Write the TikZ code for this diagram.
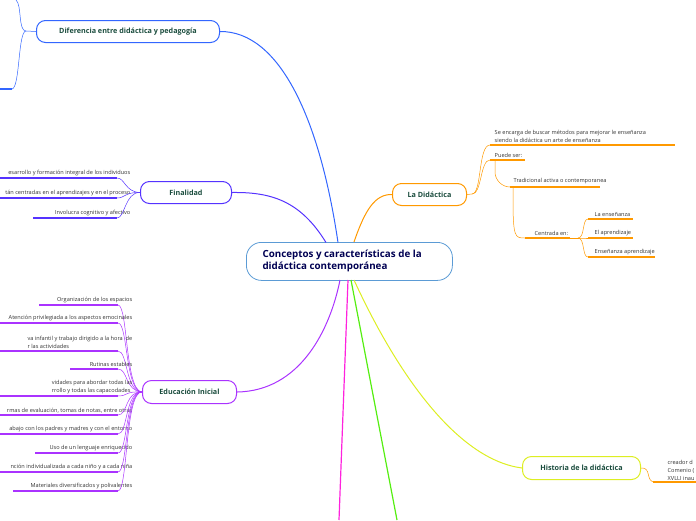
\documentclass[tikz,border=0pt]{standalone}
\usepackage{fontspec}
\setmainfont{Open Sans}
\begin{document}
\begin{tikzpicture}[x=1pt,y=-1pt,
  topic/.style={draw=#1,line width=1pt,rounded corners=9pt,fill=white,text=titlec,font=\fontsize{7.2}{8}\selectfont\bfseries,inner sep=0pt,anchor=north west},
  sm/.style={font=\fontsize{5.6}{8}\selectfont,text=black!80,inner sep=0.5pt,align=left},
  smr/.style={sm,align=right,anchor=south east},
  sml/.style={sm,anchor=south west},
  ul/.style={draw=#1,line width=1.2pt},
  br/.style={draw=#1,line width=0.5pt}]
\definecolor{titlec}{HTML}{1B4D3E}
\definecolor{cblue}{HTML}{3366FF}
\definecolor{cfin}{HTML}{5533FF}
\definecolor{cpur}{HTML}{AA33FF}
\definecolor{cor}{HTML}{FF9900}
\definecolor{cyel}{HTML}{DDEE22}
\definecolor{cmag}{HTML}{FF22DD}
\definecolor{cgrn}{HTML}{55EE11}
\definecolor{ccen}{HTML}{5B9BD5}
\useasboundingbox (0,0) rectangle (696,520);
% central
\node[draw=ccen,line width=0.8pt,rounded corners=15pt,minimum width=206pt,minimum height=38pt,anchor=north west,inner sep=0pt] (c) at (246,242) {};
\node[anchor=west,align=left,text=black!20!blue!40!black,font=\fontsize{9.8}{12.5}\selectfont\bfseries] (ct) at (259,261) {Conceptos y características de la\\didáctica contemporánea};
% topics
\node[topic=cblue,minimum width=183pt,minimum height=22pt] (dif) at (36,20) {Diferencia entre didáctica y pedagogía};
\node[topic=cfin,minimum width=91pt,minimum height=22pt] (fin) at (140,181) {Finalidad};
\node[topic=cpur,minimum width=94pt,minimum height=23pt] (edu) at (142,380) {Educación Inicial};
\node[topic=cor,minimum width=74pt,minimum height=22pt] (did) at (392,183) {La Didáctica};
\node[topic=cyel,minimum width=118pt,minimum height=23pt] (his) at (522,456) {Historia de la didáctica};
\coordinate (mb) at (339,520); \coordinate (gb) at (397,520);
% main connectors
\draw[cblue,line width=1pt] (dif.east) .. controls (280,31) and (320,120) .. (338,242.5);
\draw[cfin,line width=1pt] (fin.east) .. controls (270,192) and (300,200) .. (326,242.5);
\draw[cpur,line width=1pt] (edu.east) .. controls (300,391) and (330,330) .. (340,280);
\draw[cor,line width=1pt] (354,242) .. controls (365,210) and (375,194) .. (did.west);
\draw[cyel,line width=1pt] (354,280) .. controls (400,380) and (460,460) .. (his.west);
\draw[cmag,line width=1.2pt] (348,280) -- (mb);
\draw[cgrn,line width=1.2pt] (351,280) -- (gb);
% Diferencia children
\coordinate (d0) at (0,89);
\draw[br=cblue] (dif.west) -- (26,31) .. controls (18,31) and (22,5) .. (16,0);
\draw[br=cblue] (26,31) .. controls (18,31) and (20,88) .. (12,89);
\draw[ul=cblue] (12,89) -- (d0);
% Finalidad children
\foreach \t/\y/\l in {esarrollo y formación integral de los individuos/178/0,tán centradas en el aprendizajes y en el proceso/198/0,Involucra cognitivo y afectivo/218/33}{
  \node[smr] at (131,\y-1.5) {\t};
  \draw[ul=cfin] (\l,\y) -- (117,\y);
  \draw[br=cfin] (117,\y) .. controls (125,\y) and (125,192) .. (fin.west);
}
% Educacion children
\foreach \t/\y/\l in {Organización de los espacios/305/39,Atención privilegiada a los aspectos emocinales/323/0,{va infantil y trabajo dirigido a la hora\ \ de\\r las actividades}/351/0,Rutinas estables/369/70,{vidades para abordar todas las\\rrollo y todas las capacodades}/396/0,{rmas de evaluación, tomas de notas, entre otras}/415/0,abajo con los padres y madres y con el entorno/434/0,Uso de un lenguaje enriquecido/453/35,nción individualizada a cada niño y a cada niña/472/0,Materiales diversificados y polivalentes/491/13}{
  \node[smr,align=left] at (133,\y-1.5) {\t};
  \draw[ul=cpur] (\l,\y) -- (118,\y);
  \draw[br=cpur] (118,\y) .. controls (128,\y) and (125,391) .. (edu.west);
}
% La Didactica children
\draw[br=cor] (did.east) -- (472,194) .. controls (482,194) and (478,145) .. (490,145);
\draw[br=cor] (472,194) .. controls (482,194) and (480,160) .. (490,160);
\node[sml] at (494,143) {Se encarga de buscar métodos para mejorar le enseñanza\\siendo la didáctica un arte de enseñanza};
\draw[ul=cor] (490,145) -- (675,145);
\node[sml] at (494,158) {Puede ser:};
\draw[ul=cor] (490,160) -- (525,160);
\draw[br=cor] (495,160) -- (495,172) .. controls (495,180) and (502,187) .. (510,187);
\node[sml] at (513,185) {Tradicional activa o contemporanea};
\draw[ul=cor] (510,187) -- (600,187);
\draw[br=cor] (513,187) -- (513,198) .. controls (513,238) and (515,238) .. (525,238);
\node[sml] at (534,236) {Centrada en:};
\draw[ul=cor] (525,238) -- (570,238);
\draw[br=cor] (570,238) -- (578,238);
\foreach \t/\y/\r in {La enseñanza/219/633,El aprendizaje/238/633,Enseñanza aprendizaje/257/655}{
  \node[sml] at (594,\y-1.5) {\t};
  \draw[ul=cor] (588,\y) -- (\r,\y);
  \draw[br=cor] (578,238) .. controls (585,238) and (582,\y) .. (588,\y);
}
% Historia child
\draw[br=cor] (his.east) .. controls (652,467) and (645,482) .. (655,482);
\node[sml] at (667,481) {creador d\\Comenio (\\XVLLI inau};
\draw[ul=cor] (653,482) -- (696,482);
\end{tikzpicture}
\end{document}
